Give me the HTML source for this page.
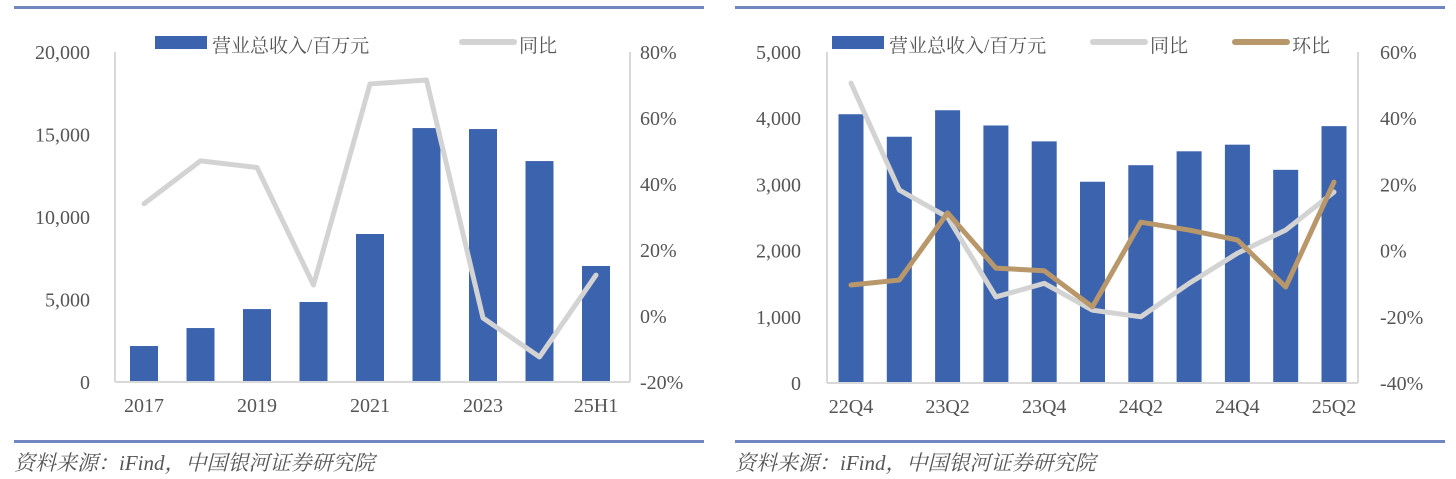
<!DOCTYPE html>
<html><head><meta charset="utf-8"><style>
body{margin:0;background:#fff;width:1456px;height:474px;overflow:hidden}
svg text{font-family:"Liberation Serif","Noto Serif CJK SC",serif;fill:#555}
</style></head><body>
<svg id="s" width="1456" height="474">
<rect x="14" y="6" width="690" height="3" fill="#6f86c0"/>
<rect x="735" y="6" width="710" height="3" fill="#6f86c0"/>
<rect x="14" y="440" width="690" height="3" fill="#6f86c0"/>
<rect x="735" y="440" width="710" height="3" fill="#6f86c0"/>
<text x="14" y="470" font-size="21" font-style="italic">资料来源：iFind，中国银河证券研究院</text>
<text x="735" y="470" font-size="21" font-style="italic">资料来源：iFind，中国银河证券研究院</text>
<g id="L"></g><g id="R"></g>
</svg>
<script>
const ns="http://www.w3.org/2000/svg";
// Left chart data
const catsA=["2017","2018","2019","2020","2021","2022","2023","2024","25H1"];
const revA=[2180,3270,4420,4850,8970,15390,15330,13390,7030];
const yoyA=[34,47,45,9.4,70.3,71.5,-0.6,-12.4,12.4];
const leftTicksA=[0,5000,10000,15000,20000];
const rightTicksA=[-20,0,20,40,60,80];
// Right chart data
const catsB=["22Q4","23Q1","23Q2","23Q3","23Q4","24Q1","24Q2","24Q3","24Q4","25Q1","25Q2"];
const revB=[4060,3720,4120,3890,3650,3040,3290,3500,3600,3220,3880];
const yoyB=[50.6,18.3,10.1,-14.0,-9.9,-18.0,-20.0,-9.9,-0.8,6.2,17.7];
const qoqB=[-10.4,-8.9,11.4,-5.3,-6.1,-17.0,8.6,6.2,3.2,-11.0,20.7];
const leftTicksB=[0,1000,2000,3000,4000,5000];
const rightTicksB=[-40,-20,0,20,40,60];

function mk(p,tag,a){const e=document.createElementNS(ns,tag);for(const k in a)e.setAttribute(k,a[k]);p.appendChild(e);return e;}
function fmt(v){return v.toLocaleString('en-US');}

function chart(g,o){
  const x=i=>o.x0+o.step*i;
  const yL=v=>o.yb-(v-o.lmin)/(o.lmax-o.lmin)*(o.yb-o.yt);
  const yR=v=>o.yb-(v-o.rmin)/(o.rmax-o.rmin)*(o.yb-o.yt);
  let e=mk(g,'line',{x1:o.ax0,x2:o.ax0,y1:o.yt,y2:o.yb,stroke:'#d9d9d9','stroke-width':2});
  
  e=mk(g,'line',{x1:o.ax1,x2:o.ax1,y1:o.yt,y2:o.yb,stroke:'#d9d9d9','stroke-width':2});
  
  o.lt.forEach(v=>{const t=mk(g,'text',{x:o.ltx,y:yL(v)+7,'font-size':20,'text-anchor':'end'});t.textContent=fmt(v);
    });
  o.rt.forEach(v=>{const t=mk(g,'text',{x:o.rtx,y:yR(v)+7,'font-size':20});t.textContent=v+'%';
    });
  o.rev.forEach((v,i)=>{const r=mk(g,'rect',{x:x(i)-o.bw/2,y:yL(v),width:o.bw,height:o.yb-yL(v),fill:'#3c63ae'});
    });
  e=mk(g,'line',{x1:o.ax0,x2:o.ax1,y1:o.yb,y2:o.yb,stroke:'#d9d9d9','stroke-width':2});
  
  o.cats.forEach((c,i)=>{if(i%2)return;const t=mk(g,'text',{x:x(i),y:o.yb+30,'font-size':20,'text-anchor':'middle'});t.textContent=c;
    });
  o.lines.forEach(s=>{const p=mk(g,'polyline',{points:s.d.map((v,i)=>x(i)+','+yR(v)).join(' '),fill:'none',stroke:s.c,'stroke-width':5,'stroke-linejoin':'round','stroke-linecap':'round'});
    });
  o.leg.forEach(l=>{
    let m;
    if(l.bar) m=mk(g,'rect',{x:l.x,y:36,width:52,height:13,fill:'#3c63ae'});
    else m=mk(g,'line',{x1:l.x,x2:l.x+52,y1:42,y2:42,stroke:l.c,'stroke-width':6,'stroke-linecap':'round'});
    
    const t=mk(g,'text',{x:l.x+57,y:52,'font-size':19});t.textContent=l.t;
    
  });
}
chart(document.getElementById('L'),{cats:catsA,rev:revA,x0:144,step:56.5,bw:28,yt:52,yb:382,lmin:0,lmax:20000,rmin:-20,rmax:80,
  ax0:115,ax1:630,ltx:90,rtx:640,lt:leftTicksA,rt:rightTicksA,
  lines:[{d:yoyA,c:'#d3d3d3',n:'yoy-line'}],
  leg:[{bar:1,x:155,t:'营业总收入/百万元'},{x:462,c:'#d3d3d3',t:'同比'}]});
chart(document.getElementById('R'),{cats:catsB,rev:revB,x0:851,step:48.3,bw:25,yt:52,yb:383,lmin:0,lmax:5000,rmin:-40,rmax:60,
  ax0:827,ax1:1358,ltx:801,rtx:1380,lt:leftTicksB,rt:rightTicksB,
  lines:[{d:yoyB,c:'#d3d3d3',n:'yoy-line'},{d:qoqB,c:'#b8976a',n:'qoq-line'}],
  leg:[{bar:1,x:832,t:'营业总收入/百万元'},{x:1093,c:'#d3d3d3',t:'同比'},{x:1235,c:'#b8976a',t:'环比'}]});
</script>
</body></html>
